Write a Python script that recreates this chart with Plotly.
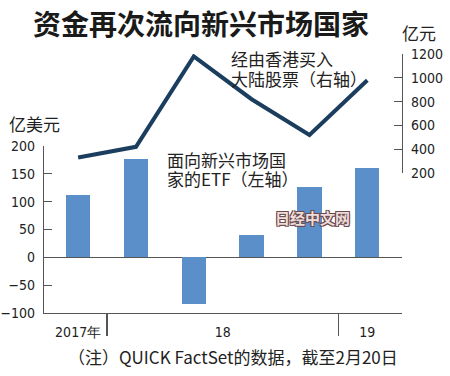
import plotly.graph_objects as go

# ---- data ----
periods = ["2017-Q4", "2018-Q1", "2018-Q2", "2018-Q3", "2018-Q4", "2019-Q1"]
etf_flows = [112, 176, -84, 41, 127, 160]          # 亿美元 (left axis)
hk_buying = [330, 420, 1180, 820, 520, 980]         # 亿元 (right axis)
year_labels = ["2017年", "18", "19"]
left_ticks = [-100, -50, 0, 50, 100, 150, 200]
right_ticks = [200, 400, 600, 800, 1000, 1200]

# ---- derived positions ----
x_idx = list(range(len(periods)))
years = [p.split("-")[0] for p in periods]
uniq_years = list(dict.fromkeys(years))
group_centers = [sum(i for i, y in enumerate(years) if y == u) / years.count(u) for u in uniq_years]
boundaries = [i - 0.5 for i in range(1, len(years)) if years[i] != years[i - 1]]

W, H = 450, 376
ML, MR = 44, 48
PW = W - ML - MR
def py(p):  # pixel y -> paper fraction (margins t=b=0)
    return 1 - p / H
def px(p):  # pixel x -> paper fraction (paper = plot area horizontally)
    return (p - ML) / PW

NARROW = "DejaVu Sans Condensed, Liberation Sans Narrow, Arial Narrow, sans-serif"
CJK = "Noto Sans CJK SC, Noto Sans, sans-serif"
AX = "#555555"
TICKFONT = dict(family=NARROW, size=14, color="#222")

fig = go.Figure()
fig.add_trace(go.Bar(
    x=x_idx, y=etf_flows, width=0.42,
    marker=dict(color="#5b8fca", line=dict(width=0)),
    xaxis="x", yaxis="y", showlegend=False, hoverinfo="skip",
))
fig.add_trace(go.Scatter(
    x=x_idx, y=hk_buying, mode="lines",
    line=dict(color="#1b3d5e", width=4),
    xaxis="x", yaxis="y2", showlegend=False, hoverinfo="skip",
))

fig.update_layout(
    width=W, height=H,
    margin=dict(l=ML, r=MR, t=0, b=0, autoexpand=False),
    paper_bgcolor="white", plot_bgcolor="rgba(0,0,0,0)",
    bargap=0,
    xaxis=dict(
        domain=[0, 1], anchor="y", automargin=False,
        range=[-0.59, 5.6],
        showgrid=False, zeroline=False,
        showline=True, linecolor=AX, linewidth=1.2,
        tickmode="array", tickvals=group_centers, ticktext=year_labels,
        ticks="", ticklabelstandoff=6,
        tickfont=TICKFONT,
        minor=dict(tickmode="array", tickvals=boundaries, ticks="outside",
                   ticklen=22, tickcolor=AX, tickwidth=1.2, showgrid=False),
    ),
    yaxis=dict(
        domain=[py(313), py(146)], anchor="x", automargin=False,
        range=[-100, 200],
        showgrid=False,
        zeroline=True, zerolinecolor=AX, zerolinewidth=1.2,
        showline=True, linecolor=AX, linewidth=1.2,
        tickmode="array", tickvals=left_ticks,
        ticks="inside", ticklen=8, tickcolor=AX, tickwidth=1.2,
        ticklabelstandoff=5,
        tickfont=TICKFONT,
    ),
    yaxis2=dict(
        domain=[py(173), py(54)], anchor="x", side="right", automargin=False,
        range=[200, 1200],
        showgrid=False, zeroline=False,
        showline=True, linecolor=AX, linewidth=1.2,
        tickmode="array", tickvals=right_ticks,
        ticks="inside", ticklen=8, tickcolor=AX, tickwidth=1.2,
        ticklabelstandoff=5,
        tickfont=TICKFONT,
    ),
)

def note(text, x, y, size=17, xanchor="left", color="#222", **kw):
    fig.add_annotation(text=text, xref="paper", yref="paper",
                       x=px(x), y=py(y), xanchor=xanchor, yanchor="middle",
                       showarrow=False, font=dict(family=CJK, size=size, color=color, **kw))

note("资金再次流向新兴市场国家", 201, 23, size=28, xanchor="center", color="#1a1a1a", weight="bold")
note("亿美元", 7, 124, size=17)
note("亿元", 400, 33, size=17)
note("经由香港买入", 229, 58.5)
note("大陆股票（右轴）", 229, 78.5)
note("面向新兴市场国", 165, 160)
note("家的ETF（左轴）", 165, 178.5)
note("（注）QUICK FactSet的数据，截至2月20日", 66, 356)
note("日经中文网", 312, 217, size=15, xanchor="center", color="#ecdcdc", weight="bold",
     shadow="1px 1px 0 #6b4a4a, -1px -1px 0 #6b4a4a, 1px -1px 0 #6b4a4a, -1px 1px 0 #6b4a4a")

fig.write_html(
    "out.html",
    config={"displayModeBar": False, "staticPlot": True},
    post_script="document.body.style.margin='0';document.body.style.overflow='hidden';",
)
